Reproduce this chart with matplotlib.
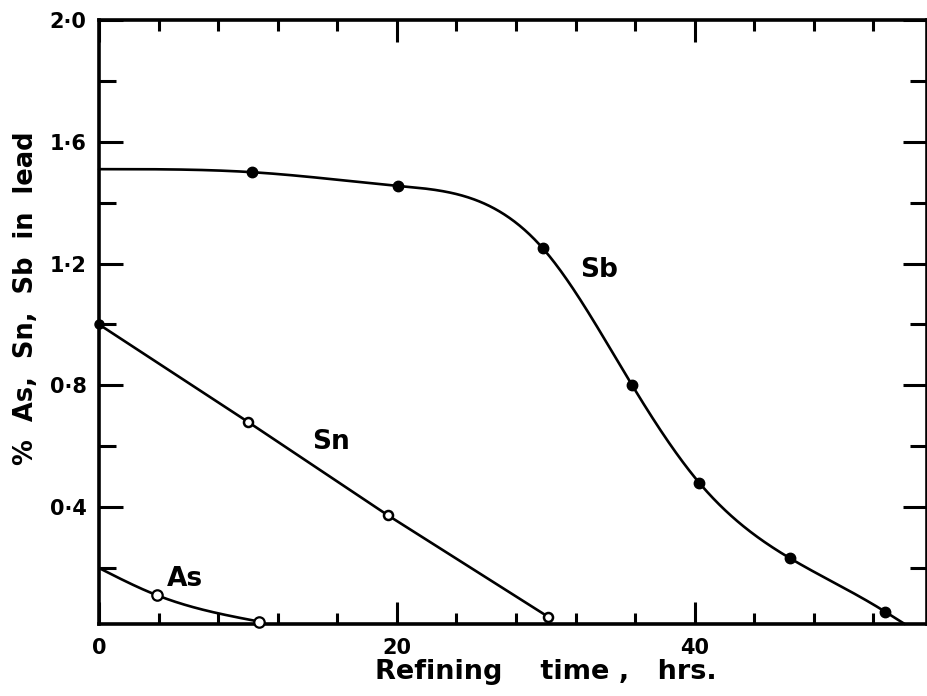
import numpy as np
import matplotlib
matplotlib.use("Agg")
import matplotlib.pyplot as plt
from matplotlib.ticker import FixedLocator, MultipleLocator

# ---- data ----
sb_x = [10.3, 20.1, 29.8, 35.8, 40.3, 46.4, 52.8]
sb_y = [1.50, 1.455, 1.25, 0.80, 0.48, 0.232, 0.056]
sb_start = (0.0, 1.51)
sb_end = (54.1, 0.016)

sn_x = [0.0, 10.0, 19.4, 30.15]
sn_y = [1.00, 0.68, 0.373, 0.04]

as_x = [3.87, 10.76]
as_y = [0.111, 0.024]
as_start = (0.0, 0.20)

x_major = [0, 20, 40]
x_major_labels = ["0", "20", "40"]
y_major = [0.4, 0.8, 1.2, 1.6, 2.0]
y_major_labels = ["0·4", "0·8", "1·2", "1·6", "2·0"]


def spline(x, y, xs, s0=None, s1=None):
    """Cubic spline through the points (natural, or clamped if end slopes given)."""
    x = np.asarray(x, float)
    y = np.asarray(y, float)
    n = len(x)
    h = np.diff(x)
    A = np.zeros((n, n))
    r = np.zeros(n)
    if s0 is None:
        A[0, 0] = 1.0
    else:
        A[0, 0] = 2 * h[0]
        A[0, 1] = h[0]
        r[0] = 6 * ((y[1] - y[0]) / h[0] - s0)
    if s1 is None:
        A[-1, -1] = 1.0
    else:
        A[-1, -2] = h[-1]
        A[-1, -1] = 2 * h[-1]
        r[-1] = 6 * (s1 - (y[-1] - y[-2]) / h[-1])
    for i in range(1, n - 1):
        A[i, i - 1] = h[i - 1]
        A[i, i] = 2 * (h[i - 1] + h[i])
        A[i, i + 1] = h[i]
        r[i] = 6 * ((y[i + 1] - y[i]) / h[i] - (y[i] - y[i - 1]) / h[i - 1])
    M = np.linalg.solve(A, r)
    out = np.empty_like(xs)
    for j, xv in enumerate(xs):
        k = min(max(np.searchsorted(x, xv) - 1, 0), n - 2)
        a = x[k + 1] - xv
        b = xv - x[k]
        out[j] = (M[k] * a**3 + M[k + 1] * b**3) / (6 * h[k]) \
            + (y[k] / h[k] - M[k] * h[k] / 6) * a \
            + (y[k + 1] / h[k] - M[k + 1] * h[k] / 6) * b
    return out


plt.rcParams["font.family"] = ["DejaVu Sans"]
plt.rcParams["font.weight"] = "bold"

fig = plt.figure(figsize=(9.28, 6.96), dpi=100)
ax = fig.add_axes([0.1067, 0.1034, 0.8923, 0.8679])

ink = "black"

# Sb curve
cx = [sb_start[0]] + sb_x + [sb_end[0]]
cy = [sb_start[1]] + sb_y + [sb_end[1]]
xs = np.linspace(cx[0], cx[-1], 800)
ax.plot(xs, spline(cx, cy, xs, s0=0.0, s1=-0.029), color=ink, lw=1.9,
        solid_capstyle="round", clip_on=False)
ax.plot(sb_x, sb_y, "o", color=ink, ms=7.5, clip_on=False, zorder=5)

# Sn line
ax.plot(sn_x, sn_y, color=ink, lw=1.9)
ax.plot(sn_x[1:], sn_y[1:], "o", mfc="white", mec=ink, mew=1.8, ms=6.5, clip_on=False, zorder=5)
ax.plot(sn_x[:1], sn_y[:1], "o", color=ink, ms=6.5, clip_on=False, zorder=5)

# As curve
a_x = [as_start[0]] + as_x
a_y = [as_start[1]] + as_y
xs2 = np.linspace(a_x[0], a_x[-1], 200)
ax.plot(xs2, spline(a_x, a_y, xs2), color=ink, lw=1.9)
ax.plot(as_x, as_y, "o", mfc="white", mec=ink, mew=1.6, ms=7.5, clip_on=False, zorder=5)

lab_font = dict(fontsize=19, fontweight="bold")
ax.text(33.6, 1.18, "Sb", ha="center", va="center", **lab_font)
ax.text(15.6, 0.615, "Sn", ha="center", va="center", **lab_font)
ax.text(5.8, 0.165, "As", ha="center", va="center", **lab_font)

ax.set_xlim(0, 55.6)
ax.set_ylim(0.016, 2.0)

ax.xaxis.set_major_locator(FixedLocator(x_major))
ax.set_xticklabels(x_major_labels, fontweight="bold")
ax.xaxis.set_minor_locator(MultipleLocator(4))
ax.yaxis.set_major_locator(FixedLocator(y_major))
ax.set_yticklabels(y_major_labels, fontweight="bold")
ax.yaxis.set_minor_locator(MultipleLocator(0.2))

ax.tick_params(axis="both", which="both", direction="in", top=True, right=True,
               width=2.2, color=ink)
ax.tick_params(axis="x", which="major", length=16, labelsize=15, pad=10)
ax.tick_params(axis="x", which="minor", length=8)
ax.tick_params(axis="y", which="major", length=17, labelsize=15, pad=9)
ax.tick_params(axis="y", which="minor", length=12)

for s in ax.spines.values():
    s.set_linewidth(2.6)
    s.set_color(ink)

ax.set_xlabel("Refining    time ,   hrs.", fontsize=19.5, fontweight="bold")
ax.xaxis.set_label_coords(0.539, -0.058)
ax.set_ylabel("%  As,  Sn,  Sb  in  lead", fontsize=18.5, fontweight="bold")
ax.yaxis.set_label_coords(-0.0725, 0.54)

fig.savefig("out.png", dpi=100)
